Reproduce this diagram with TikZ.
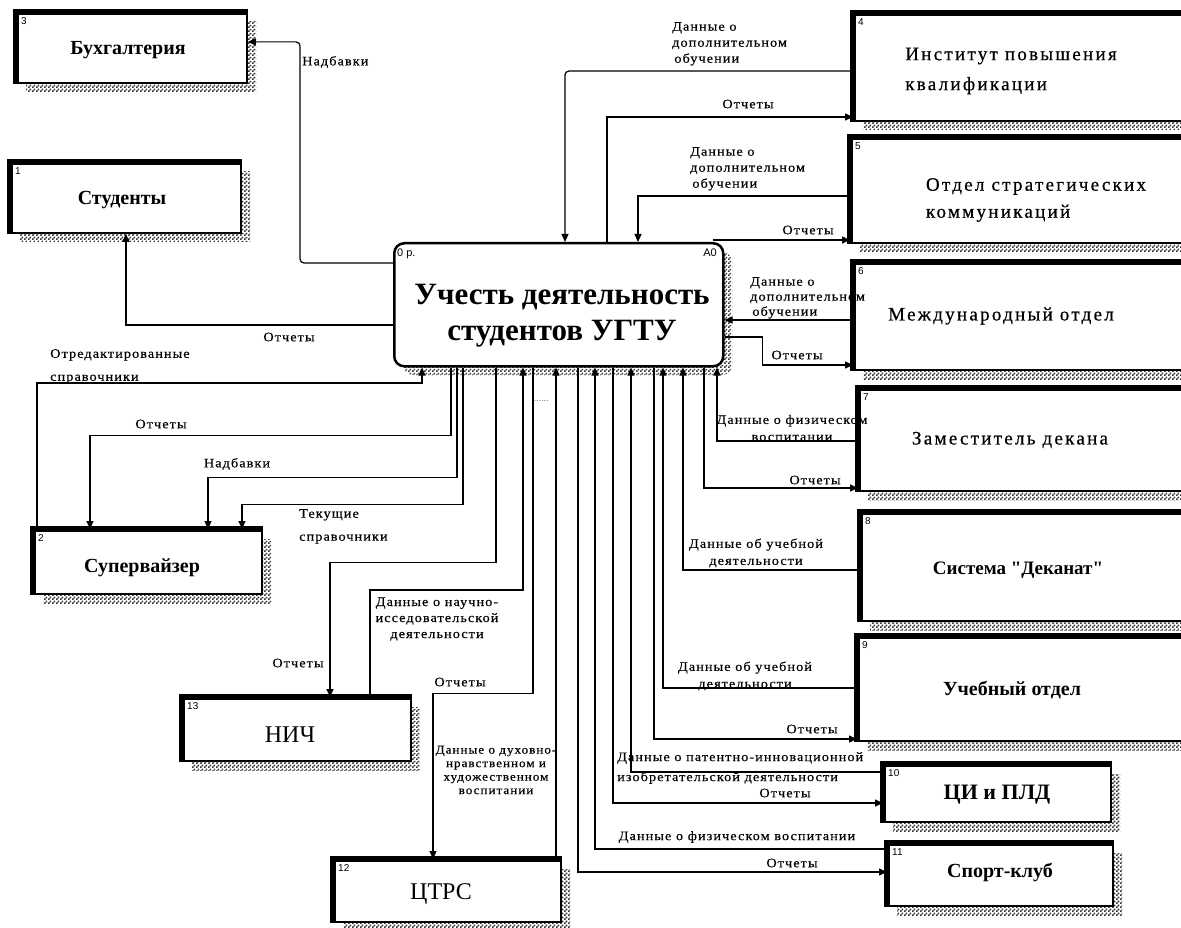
\documentclass[tikz,border=0pt]{standalone}
\usepackage{fontspec}
\setmainfont{Liberation Serif}
\newfontfamily\lblfont[FakeStretch=1.1,LetterSpace=8,FakeBold=0.3]{Liberation Serif}
\newfontfamily\wfont[LetterSpace=12,FakeBold=0.5]{Liberation Serif}
\newfontfamily\plainq[Ligatures=TeXOff]{Liberation Serif}
\newfontfamily\sansf{Liberation Sans}
\usetikzlibrary{arrows.meta,patterns,calc}

\pgfdeclarepatternformonly{checker}{\pgfqpoint{0pt}{0pt}}{\pgfqpoint{4pt}{4pt}}{\pgfqpoint{4pt}{4pt}}{%
  \pgfpathrectangle{\pgfqpoint{0pt}{0pt}}{\pgfqpoint{2pt}{2pt}}%
  \pgfpathrectangle{\pgfqpoint{2pt}{2pt}}{\pgfqpoint{2pt}{2pt}}%
  \pgfusepath{fill}}

\tikzset{
  conn/.style={line width=1.2pt, draw=black},
  flow/.style={conn, -{Triangle[length=8pt,width=7pt]}},
  lbl/.style={font=\lblfont\fontsize{13}{15}\selectfont, inner sep=0pt, align=center},
  ebox/.style={draw=black, line width=1.8pt, fill=white, inner sep=0pt, rectangle},
  enum/.style={font=\sansf\fontsize{10}{12}\selectfont, inner sep=0pt},
  shadowpat/.style={pattern=checker, pattern color=black!80},
}

% #1 name, #2 x, #3 y, #4 w, #5 h, #6 number, #7 text, #8 text centre (x,y), #9 font
\newcommand\entity[9]{%
  \fill[shadowpat] (#2+#4,#3+10) rectangle (#2+#4+10,#3+#5+10);
  \fill[shadowpat] (#2+10,#3+#5) rectangle (#2+#4,#3+#5+10);
  \node[ebox, minimum width=#4pt, minimum height=#5pt, anchor=north west] (#1) at (#2,#3) {};
  \draw[line width=5.5pt] (#1.south west) -- (#1.north west) -- (#1.north east);
  \node[enum, anchor=north west] (#1n) at ([shift={(5pt,-5pt)}]#1.north west) {#6};
  \node[font=#9, align=left, inner sep=0pt] (#1t) at (#8) {#7};
}

\begin{document}
\begin{tikzpicture}[x=1pt,y=-1pt]
\clip (0,0) rectangle (1181,928);
\fill[white] (0,0) rectangle (1181,928);

% central process
\fill[shadowpat, rounded corners=10pt] (403,252) rectangle (732,375);
\node[draw=black, line width=2.5pt, rounded corners=10pt, fill=white, minimum width=329pt, minimum height=123pt, anchor=north west, inner sep=0pt] (c0) at (393,242) {};
\node[font=\bfseries\fontsize{31}{36}\selectfont, align=center, inner sep=0pt] (c0t) at (562,316) {Учесть деятельность\\студентов УГТУ};
\node[enum, font=\sansf\fontsize{11}{13}\selectfont, anchor=north west] (c0n) at (397,249) {0 р.};
\node[enum, font=\sansf\fontsize{11}{13}\selectfont, anchor=north east] (c0a) at (717,249) {A0};
\node[font=\sansf\fontsize{9}{10}\selectfont, text=black!60, inner sep=0pt] (dots) at (541,401) {......};

% external entities
\entity{bux}{16}{12}{230}{70}{3}{Бухгалтерия}{128,50}{\bfseries\fontsize{20}{24}\selectfont}
\entity{stud}{10}{162}{230}{70}{1}{Студенты}{122,200}{\bfseries\fontsize{20}{24}\selectfont}
\entity{sv}{33}{529}{228}{64}{2}{Супервайзер}{142,568}{\bfseries\fontsize{20}{24}\selectfont}
\entity{nic}{182}{697}{228}{63}{13}{НИЧ}{290,735}{\fontsize{24}{28}\selectfont}
\entity{ctrs}{333}{859}{227}{62}{12}{ЦТРС}{441,894}{\fontsize{24}{28}\selectfont}
\entity{e4}{853}{13}{345}{107}{4}{Институт повышения\\квалификации}{1011,71}{\wfont\fontsize{19}{30}\selectfont}
\entity{e5}{850}{137}{348}{105}{5}{Отдел стратегических\\коммуникаций}{1036,200}{\wfont\fontsize{19}{27}\selectfont}
\entity{e6}{853}{262}{345}{107}{6}{Международный отдел}{1001,316}{\wfont\fontsize{19}{24}\selectfont}
\entity{e7}{858}{388}{340}{102}{7}{Заместитель декана}{1010,440}{\wfont\fontsize{19}{24}\selectfont}
\entity{e8}{860}{512}{338}{108}{8}{Система "Деканат"}{1018,570}{\plainq\bfseries\fontsize{19}{24}\selectfont}
\entity{e9}{857}{636}{341}{104}{9}{Учебный отдел}{1012,690}{\bfseries\fontsize{20}{24}\selectfont}
\entity{e10}{883}{764}{227}{57}{10}{ЦИ и ПЛД}{997,795}{\bfseries\fontsize{22}{26}\selectfont}
\entity{e11}{887}{843}{225}{62}{11}{Спорт-клуб}{1000,872}{\bfseries\fontsize{20}{24}\selectfont}

% ---- connectors: left
\draw[flow, rounded corners=4pt] ([yshift=-21pt]c0.north west) -- ++(-93,0) |- ([yshift=6pt]bux.east);
\draw[flow] ([yshift=-83pt]c0.north west) -| (stud.south);

% supervisor
\draw[flow] ([xshift=4pt]sv.north west) -- ++(0,-146) -| ([xshift=29pt]c0.south west);
\draw[flow] ([xshift=58pt]c0.south west) -- ++(0,68) -| ([xshift=57pt]sv.north west);
\draw[flow] ([xshift=64pt]c0.south west) -- ++(0,110) -| ([xshift=175pt]sv.north west);
\draw[flow] ([xshift=70pt]c0.south west) -- ++(0,137) -| ([xshift=209pt]sv.north west);

% NIC
\draw[flow] ([xshift=103pt]c0.south west) -- ++(0,195) -| ([xshift=148pt]nic.north west);
\draw[flow] ([xshift=188pt]nic.north west) -- ++(0,-107) -| ([xshift=130pt]c0.south west);

% CTRS
\draw[flow] ([xshift=140pt]c0.south west) -- ++(0,326) -| ([xshift=100pt]ctrs.north west);
\draw[flow] ([xshift=223pt]ctrs.north west) -- ([xshift=163pt]c0.south west);

% sport club
\draw[flow] ([xshift=185pt]c0.south west) |- ([yshift=-29pt]e11.north west);
\draw[flow] ([yshift=-6pt]e11.north west) -| ([xshift=202pt]c0.south west);

% CI
\draw[flow] ([xshift=220pt]c0.south west) |- ([yshift=-39pt]e10.north west);
\draw[flow] ([yshift=-8pt]e10.north west) -| ([xshift=238pt]c0.south west);

% educational dept
\draw[flow] ([xshift=261pt]c0.south west) |- ([yshift=-103pt]e9.north west);
\draw[flow] ([yshift=-52pt]e9.north west) -| ([xshift=270pt]c0.south west);

% dean system
\draw[flow] ([yshift=-58pt]e8.north west) -| ([xshift=290pt]c0.south west);

% deputy dean
\draw[flow] ([xshift=311pt]c0.south west) |- ([yshift=-100pt]e7.north west);
\draw[flow] ([yshift=-53pt]e7.north west) -| ([xshift=324pt]c0.south west);

% international
\draw[flow] ([yshift=-58pt]e6.north west) -- ([yshift=-58pt]e6.north west -| c0.east);
\draw[flow] ([yshift=-95pt]c0.north east) -- ++(38,0) |- ([yshift=-103pt]e6.north west);

% strategic comm
\draw[flow] ([yshift=-59pt]e5.north west) -| ([xshift=245pt]c0.north west);
\draw[flow] ([xshift=-12pt,yshift=2pt]c0.north east) -- ([yshift=2pt]c0.north east -| e5.west);

% institute
\draw[flow, rounded corners=4pt] ([yshift=-58pt]e4.north west) -| ([xshift=172pt]c0.north west);
\draw[flow] ([xshift=214pt]c0.north west) |- ([yshift=-104pt]e4.north west);

% ---- labels
\node[lbl, anchor=west] (l1) at (302,62) {Надбавки};
\node[lbl] (l2) at (289,337) {Отчеты};
\node[lbl, align=left, anchor=north west, font=\lblfont\fontsize{13}{23}\selectfont] (l3) at (50,349) {Отредактированные\\справочники};
\node[lbl] (l4) at (161,424) {Отчеты};
\node[lbl] (l5) at (237,464) {Надбавки};
\node[lbl, align=left, anchor=north west, font=\lblfont\fontsize{13}{23}\selectfont] (l6) at (299,509) {Текущие\\справочники};
\node[lbl] (l7) at (298,663) {Отчеты};
\node[lbl, font=\lblfont\fontsize{13}{16}\selectfont] (l8) at (437,619) {Данные о научно-\\исседовательской\\деятельности};
\node[lbl] (l9) at (460,682) {Отчеты};
\node[lbl, font=\lblfont\fontsize{12}{13.5}\selectfont] (l10) at (496,770) {Данные о духовно-\\нравственном и\\художественном\\воспитании};
\node[lbl] (l11) at (792,863) {Отчеты};
\node[lbl] (l12) at (737,837) {Данные о физическом воспитании};
\node[lbl] (l13) at (785,793) {Отчеты};
\node[lbl, align=left, anchor=north west, font=\lblfont\fontsize{13}{20}\selectfont] (l14) at (617,752) {Данные о патентно-инновационной\\изобретательской деятельности};
\node[lbl] (l15) at (812,729) {Отчеты};
\node[lbl, font=\lblfont\fontsize{13}{17}\selectfont] (l16) at (745,676) {Данные об учебной\\деятельности};
\node[lbl, font=\lblfont\fontsize{13}{17}\selectfont] (l17) at (756,553) {Данные об учебной\\деятельности};
\node[lbl] (l18) at (815,480) {Отчеты};
\node[lbl, font=\lblfont\fontsize{13}{17}\selectfont] (l19) at (792,428) {Данные о физическом\\воспитании};
\node[lbl] (l20) at (797,355) {Отчеты};
\node[lbl, align=left, anchor=north west, font=\lblfont\fontsize{13}{15}\selectfont] (l21) at (750,277) {Данные о\\дополнительном\\\,обучении};
\node[lbl] (l22) at (808,230) {Отчеты};
\node[lbl, align=left, anchor=north west, font=\lblfont\fontsize{13}{16}\selectfont] (l23) at (690,147) {Данные о\\дополнительном\\\,обучении};
\node[lbl] (l24) at (748,104) {Отчеты};
\node[lbl, align=left, anchor=north west, font=\lblfont\fontsize{13}{16}\selectfont] (l25) at (672,22) {Данные о\\дополнительном\\\,обучении};
\end{tikzpicture}
\end{document}
